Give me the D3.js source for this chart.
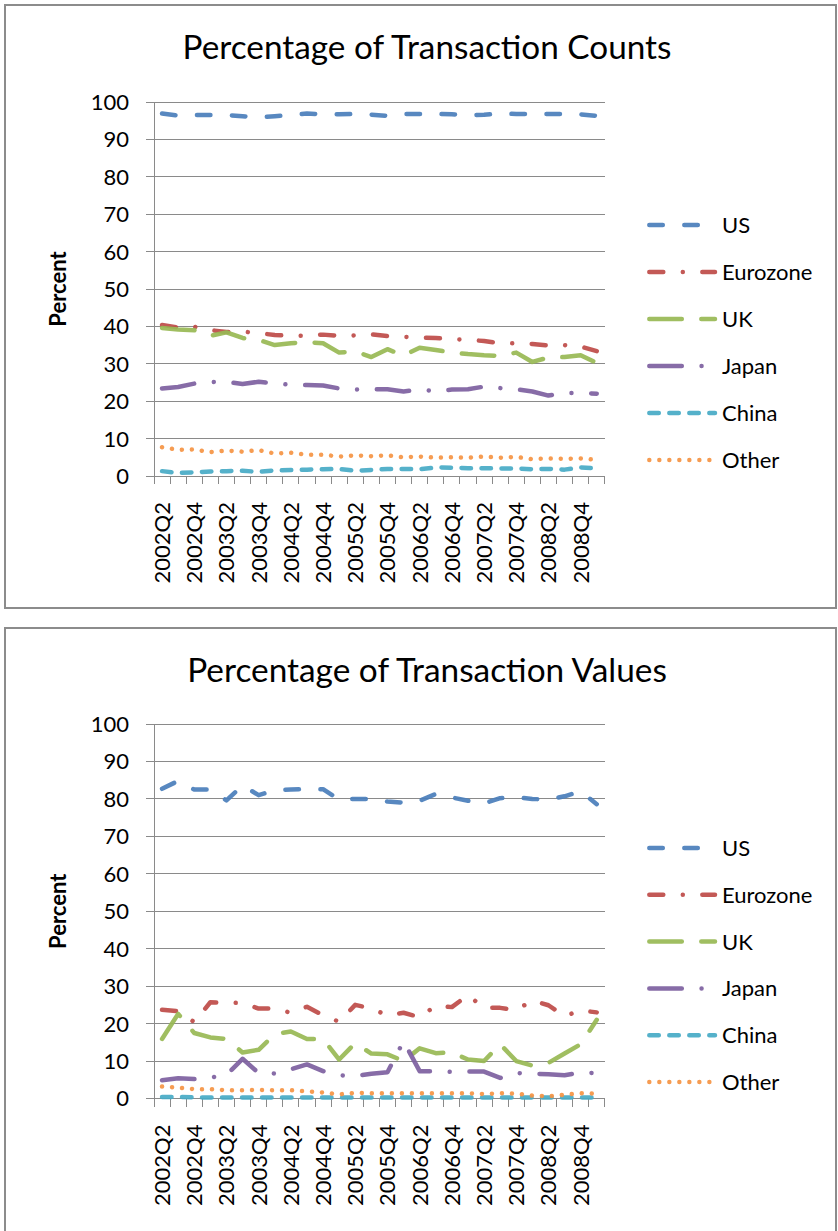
<!DOCTYPE html>
<html><head><meta charset="utf-8">
<script src="https://cdn.jsdelivr.net/npm/d3@7"></script>
<style>
body{margin:0;background:#fff}
svg{display:block}
text{font-family:Lato,"Open Sans",sans-serif;fill:#000}
</style>
</head><body>
<svg id="c" width="838" height="1231"></svg>
<script>
// ---------- DATA ----------
const quarters = ["2002Q2","2002Q3","2002Q4","2003Q1","2003Q2","2003Q3","2003Q4","2004Q1","2004Q2","2004Q3","2004Q4",
  "2005Q1","2005Q2","2005Q3","2005Q4","2006Q1","2006Q2","2006Q3","2006Q4","2007Q1","2007Q2","2007Q3","2007Q4",
  "2008Q1","2008Q2","2008Q3","2008Q4","2009Q1"];
const tickLabels = ["2002Q2","2002Q4","2003Q2","2003Q4","2004Q2","2004Q4","2005Q2","2005Q4","2006Q2","2006Q4",
  "2007Q2","2007Q4","2008Q2","2008Q4"];
const yTicks = [0,10,20,30,40,50,60,70,80,90,100];
const seriesNames = ["US","Eurozone","UK","Japan","China","Other"];

// Percentage of Transaction Counts
const countsUS       = [96.9,96.4,96.5,96.5,96.5,96.2,95.9,96.2,96.5,96.9,96.7,96.7,96.8,96.6,96.3,96.8,96.8,96.8,96.7,96.5,96.6,96.9,96.8,96.8,96.8,96.8,96.7,96.3];
const countsEurozone = [40.4,39.7,39.9,39.0,38.5,38.6,38.2,37.7,37.5,37.5,37.8,37.5,37.6,37.9,37.4,37.2,37.0,36.9,36.6,36.4,36.1,35.5,35.5,35.3,34.9,35.0,34.6,33.4];
const countsUK       = [39.6,39.2,39.0,37.5,38.4,36.9,36.4,35.0,35.5,35.8,35.5,33.0,33.3,31.8,33.9,32.2,34.3,33.7,33.0,32.6,32.3,32.1,33.0,30.5,31.7,31.8,32.3,30.2];
const countsJapan    = [23.4,23.8,24.7,25.1,25.2,24.6,25.2,24.7,24.4,24.3,24.2,23.4,23.1,23.2,23.2,22.6,23.1,22.7,23.1,23.2,23.9,23.5,23.2,22.6,21.5,22.2,22.2,22.0];
const countsChina    = [1.3,0.8,1.0,1.2,1.3,1.4,1.1,1.5,1.6,1.7,1.8,1.9,1.4,1.6,1.9,1.9,1.8,2.3,2.2,2.1,2.1,2.0,2.0,1.8,1.9,1.7,2.3,2.0];
const countsOther    = [7.7,7.0,7.1,6.4,6.8,6.5,6.9,6.0,6.2,5.7,5.7,5.2,5.5,5.3,5.5,5.0,5.2,4.9,5.0,4.9,5.2,4.9,5.1,4.5,4.7,4.6,4.7,4.3];

// Percentage of Transaction Values
const valuesUS       = [82.7,84.8,82.5,82.5,79.6,83.6,81.0,82.3,82.5,82.6,82.6,79.8,80.0,80.0,79.3,79.0,79.5,81.3,80.4,79.5,78.8,80.2,80.4,80.0,79.8,80.7,82.0,78.6];
const valuesEurozone = [23.7,23.3,20.4,25.7,25.6,25.5,24.0,24.0,22.9,24.5,22.2,20.5,25.0,24.0,22.2,22.9,21.7,24.8,24.4,27.6,24.2,24.2,23.6,26.2,24.9,22.0,23.5,23.0];
const valuesUK       = [15.9,22.6,17.5,16.3,15.9,12.3,13.0,17.2,17.9,15.9,15.9,10.4,14.8,12.0,11.8,10.0,13.4,12.1,12.3,10.4,10.0,14.5,10.0,8.8,9.5,12.0,14.5,21.0];
const valuesJapan    = [4.9,5.4,5.2,5.6,6.3,10.6,6.8,6.7,7.8,9.1,7.3,6.2,6.0,6.6,7.0,15.3,7.3,7.3,7.1,7.2,7.2,5.5,6.8,6.6,6.5,6.2,6.9,6.8];
const valuesChina    = [0.4,0.4,0.3,0.3,0.3,0.3,0.3,0.3,0.3,0.3,0.3,0.3,0.3,0.3,0.3,0.3,0.3,0.3,0.3,0.3,0.3,0.3,0.3,0.3,0.3,0.3,0.3,0.3];
const valuesOther    = [3.2,2.9,2.5,2.5,2.2,2.2,2.3,2.2,2.2,1.9,1.6,1.1,1.5,1.4,1.4,1.4,1.4,1.4,1.4,1.4,1.2,1.4,1.3,0.8,0.6,1.0,1.4,1.3];

// ---------- STYLES ----------
const styles = {
  US:       {color:"#4A7EBB", dash:"13.5 21.5"},
  Eurozone: {color:"#BE4B48", dash:"14 19.5 0.01 19.5"},
  UK:       {color:"#98B954", dash:"32.5 19.5"},
  Japan:    {color:"#7D60A0", dash:"32.5 19.75 0.01 19.75"},
  China:    {color:"#46AAC5", dash:"9.5 10.5"},
  Other:    {color:"#F59443", dash:"0.01 10"}
};
const LW = 4.5;

const svg = d3.select("#c");
const FONT = 22;

function panel(cfg){
  const g = svg.append("g");
  // frame
  g.append("rect").attr("x",cfg.frame[0]).attr("y",cfg.frame[1]).attr("width",cfg.frame[2]).attr("height",cfg.frame[3])
    .attr("fill","#fff").attr("stroke","#8c8c8c").attr("stroke-width",2);

  const x = d3.scaleBand().domain(quarters).range([154, 604.8]).padding(0);
  const y = d3.scaleLinear().domain([0,100]).range([cfg.bottom, cfg.top]);
  const cx = q => x(q) + x.bandwidth()/2;

  // title (fit to measured width)
  const t = g.append("text").attr("x",cfg.titleX).attr("y",cfg.titleY).attr("text-anchor","middle")
    .style("font-size","28px").text(cfg.title);
  const w = t.node().getComputedTextLength();
  t.style("font-size", (28*cfg.titleW/w).toFixed(2)+"px");

  // gridlines (incl. y tick marks extending left)
  g.append("g").selectAll("line").data(yTicks).join("line")
    .attr("x1",146).attr("x2",604.8).attr("y1",d=>y(d)).attr("y2",d=>y(d))
    .attr("stroke","#8a8a8a").attr("stroke-width",1).attr("shape-rendering","crispEdges");
  // y axis line
  g.append("line").attr("x1",154).attr("x2",154).attr("y1",y(100)).attr("y2",y(0))
    .attr("stroke","#8a8a8a").attr("stroke-width",1).attr("shape-rendering","crispEdges");
  // x tick marks at category boundaries
  const bounds = quarters.map(q=>x(q)).concat([x(quarters[quarters.length-1])+x.bandwidth()]);
  g.append("g").selectAll("line").data(bounds).join("line")
    .attr("x1",d=>d).attr("x2",d=>d).attr("y1",y(0)).attr("y2",y(0)+8)
    .attr("stroke","#8a8a8a").attr("stroke-width",1).attr("shape-rendering","crispEdges");

  // y labels
  g.append("g").selectAll("text").data(yTicks).join("text")
    .attr("x",129).attr("y",d=>y(d)).attr("dy","0.36em").attr("text-anchor","end")
    .style("font-size",FONT+"px").text(d=>d);
  // x labels
  g.append("g").selectAll("text").data(tickLabels).join("text")
    .attr("transform",d=>`translate(${cx(d)},${y(0)+26}) rotate(-90)`)
    .attr("dy","0.36em").attr("text-anchor","end")
    .style("font-size",FONT+"px").text(d=>d);
  // y title
  g.append("text").attr("transform",`translate(58,${(y(0)+y(100))/2}) rotate(-90)`)
    .attr("dy","0.36em").attr("text-anchor","middle")
    .style("font-size",FONT+"px").style("font-weight","bold").text("Percent");

  // series
  const line = d3.line().x((d,i)=>cx(quarters[i])).y(d=>y(d));
  seriesNames.forEach((name,k)=>{
    g.append("path").datum(cfg.data[k]).attr("d",line)
      .attr("fill","none").attr("stroke",styles[name].color).attr("stroke-width",LW)
      .attr("stroke-dasharray",styles[name].dash).attr("stroke-linecap","round").attr("stroke-linejoin","round")
      .attr("stroke-opacity",0.92);
  });

  // legend
  const lg = g.append("g").selectAll("g").data(seriesNames).join("g")
    .attr("transform",(d,i)=>`translate(0,${cfg.legendY + i*cfg.legendStep})`);
  lg.append("line").attr("x1",649.3).attr("x2",715).attr("y1",0).attr("y2",0)
    .attr("stroke",d=>styles[d].color).attr("stroke-width",LW)
    .attr("stroke-dasharray",d=>styles[d].dash).attr("stroke-linecap","round").attr("stroke-opacity",0.92);
  lg.append("text").attr("x",722).attr("y",0).attr("dy","0.36em")
    .style("font-size",FONT+"px").text(d=>d);
}

panel({
  frame:[5,5,831,603], top:102, bottom:476,
  title:"Percentage of Transaction Counts", titleX:427, titleY:59, titleW:489,
  legendY:225, legendStep:47,
  data:[countsUS,countsEurozone,countsUK,countsJapan,countsChina,countsOther]
});
panel({
  frame:[5,628,831,620], top:724, bottom:1098.5,
  title:"Percentage of Transaction Values", titleX:427, titleY:682, titleW:480,
  legendY:848, legendStep:46.8,
  data:[valuesUS,valuesEurozone,valuesUK,valuesJapan,valuesChina,valuesOther]
});
</script>
</body></html>
